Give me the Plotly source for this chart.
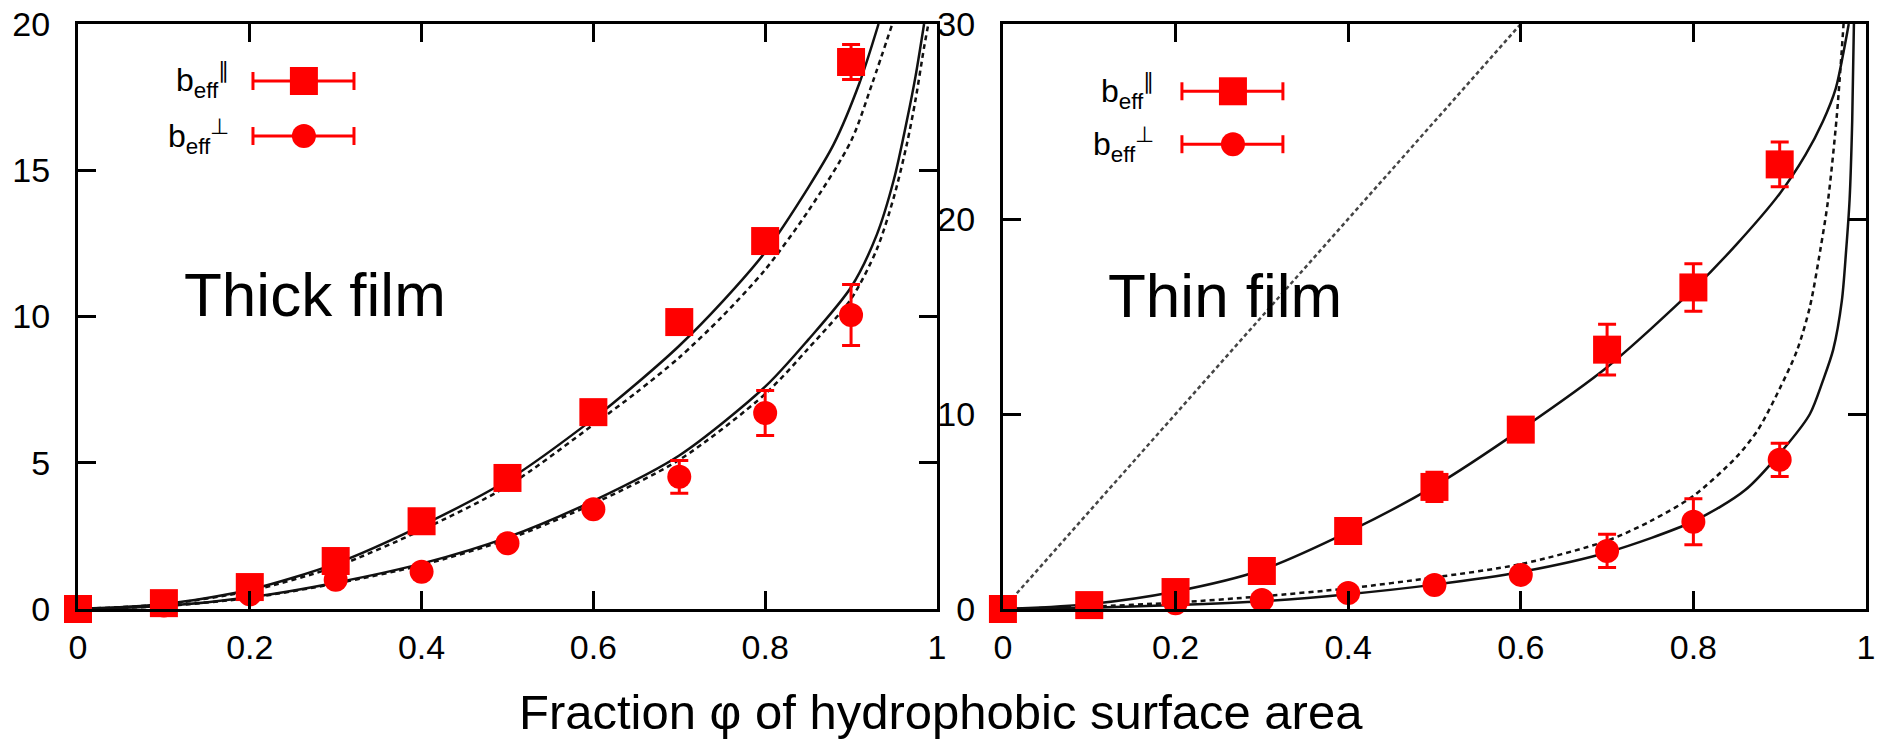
import plotly.graph_objects as go

# ---------------- data ----------------
phi = [0, 0.1, 0.2, 0.3, 0.4, 0.5, 0.6, 0.7, 0.8, 0.9]

# Thick film (left)
thick_par = [0, 0.2, 0.75, 1.64, 3.0, 4.48, 6.73, 9.81, 12.58, 18.7]
thick_par_err = [0, 0, 0, 0, 0, 0, 0, 0, 0, 0.6]
thick_perp = [0, 0.12, 0.5, 1.0, 1.27, 2.25, 3.41, 4.52, 6.7, 10.05]
thick_perp_err = [0, 0, 0, 0, 0.15, 0, 0, 0.56, 0.77, 1.04]

# theory curves, thick film
thick_par_solid_x = [0, 0.1, 0.2, 0.3, 0.4, 0.5, 0.6, 0.65, 0.7, 0.75, 0.8, 0.85, 0.88, 0.91, 0.932]
thick_par_solid_y = [0, 0.17, 0.66, 1.55, 2.85, 4.4, 6.5, 7.7, 9.0, 10.5, 12.2, 14.4, 15.9, 18.0, 20]
thick_par_dash_x = [0, 0.1, 0.2, 0.3, 0.4, 0.5, 0.6, 0.65, 0.7, 0.75, 0.8, 0.85, 0.9, 0.925, 0.948]
thick_par_dash_y = [0, 0.16, 0.62, 1.45, 2.7, 4.2, 6.3, 7.4, 8.6, 10.0, 11.6, 13.6, 16.0, 18.0, 20]
thick_perp_solid_x = [0, 0.1, 0.2, 0.3, 0.4, 0.5, 0.6, 0.7, 0.8, 0.85, 0.9, 0.93, 0.95, 0.965, 0.975, 0.985]
thick_perp_solid_y = [0, 0.1, 0.4, 0.9, 1.55, 2.45, 3.7, 5.25, 7.6, 9.2, 11.0, 12.8, 14.7, 16.7, 18.2, 20.0]
thick_perp_dash_x = [0, 0.1, 0.2, 0.3, 0.4, 0.5, 0.6, 0.7, 0.8, 0.85, 0.9, 0.93, 0.95, 0.965, 0.975, 0.985, 0.99]
thick_perp_dash_y = [0, 0.1, 0.38, 0.87, 1.5, 2.38, 3.6, 5.1, 7.35, 8.9, 10.6, 12.3, 14.1, 15.9, 17.4, 19.2, 20]

# Thin film (right)
thin_par = [0, 0.2, 0.87, 1.95, 4.0, 6.26, 9.2, 13.3, 16.49, 22.8]
thin_par_err = [0, 0, 0, 0, 0, 0.75, 0, 1.3, 1.22, 1.15]
thin_perp = [0, 0.1, 0.3, 0.46, 0.82, 1.23, 1.75, 2.98, 4.47, 7.65]
thin_perp_err = [0, 0, 0, 0, 0, 0, 0, 0.85, 1.18, 0.85]

thin_line_x = [0, 0.6]
thin_line_y = [0, 30]
thin_par_solid_x = [0, 0.1, 0.2, 0.3, 0.4, 0.5, 0.6, 0.7, 0.8, 0.85, 0.9, 0.93, 0.95, 0.965, 0.975, 0.98]
thin_par_solid_y = [0, 0.25, 0.9, 2.0, 3.95, 6.3, 9.2, 12.4, 16.4, 18.7, 21.3, 23.3, 25.0, 26.7, 28.8, 30]
thin_perp_dash_x = [0, 0.1, 0.2, 0.3, 0.4, 0.5, 0.6, 0.7, 0.75, 0.8, 0.85, 0.875, 0.9, 0.92, 0.935, 0.947, 0.956, 0.966, 0.974]
thin_perp_dash_y = [0, 0.12, 0.33, 0.65, 1.06, 1.62, 2.3, 3.5, 4.5, 5.8, 7.8, 9.2, 11.3, 13.25, 15.5, 18.4, 20.95, 25.2, 30]
thin_perp_solid_x = [0, 0.1, 0.2, 0.3, 0.4, 0.5, 0.6, 0.7, 0.8, 0.86, 0.91, 0.935, 0.95, 0.962, 0.972, 0.977, 0.981, 0.984, 0.986]
thin_perp_solid_y = [0, 0.06, 0.2, 0.4, 0.76, 1.25, 1.9, 2.9, 4.5, 6.1, 8.5, 10.0, 11.7, 13.3, 15.8, 18.4, 21.0, 25, 30]

x_ticks = [0, 0.2, 0.4, 0.6, 0.8, 1]
x_ticktext = ["0", "0.2", "0.4", "0.6", "0.8", "1"]
left_yticks = [0, 5, 10, 15, 20]
right_yticks = [0, 10, 20, 30]

# ---------------- figure ----------------
FONT = "Arial, Liberation Sans, sans-serif"
RED = "#ff0000"
fig = go.Figure()

def curve(x, y, xa, ya, dash="solid", color="#111111", width=2.5):
    fig.add_trace(go.Scatter(x=x, y=y, xaxis=xa, yaxis=ya, mode="lines",
                             line=dict(color=color, width=width, dash=dash, shape="spline", smoothing=0.8),
                             showlegend=False, hoverinfo="skip"))

DASH = "5px,4px"
curve(thick_par_dash_x, thick_par_dash_y, "x", "y", DASH)
curve(thick_par_solid_x, thick_par_solid_y, "x", "y")
curve(thick_perp_dash_x, thick_perp_dash_y, "x", "y", DASH)
curve(thick_perp_solid_x, thick_perp_solid_y, "x", "y")

fig.add_trace(go.Scatter(x=thin_line_x, y=thin_line_y, xaxis="x2", yaxis="y2", mode="lines",
                         line=dict(color="#444444", width=2.5, dash="4px,3px"),
                         showlegend=False, hoverinfo="skip"))
curve(thin_par_solid_x, thin_par_solid_y, "x2", "y2")
curve(thin_perp_dash_x, thin_perp_dash_y, "x2", "y2", DASH)
curve(thin_perp_solid_x, thin_perp_solid_y, "x2", "y2")

def pts(y, err, xa, ya, symbol, size):
    fig.add_trace(go.Scatter(x=phi, y=y, xaxis=xa, yaxis=ya, mode="markers",
                             marker=dict(symbol=symbol, size=size, color=RED, line=dict(width=0)),
                             error_y=dict(type="data", array=err, visible=True, color=RED,
                                          thickness=3, width=9),
                             cliponaxis=False, showlegend=False))

pts(thick_perp, thick_perp_err, "x", "y", "circle", 24)
pts(thick_par, thick_par_err, "x", "y", "square", 28)
pts(thin_perp, thin_perp_err, "x2", "y2", "circle", 24)
pts(thin_par, thin_par_err, "x2", "y2", "square", 28)

axis_common = dict(showline=True, linewidth=3, linecolor="black", mirror="ticks",
                   ticks="inside", ticklen=18, tickwidth=3, tickcolor="black",
                   showgrid=False, zeroline=False, automargin=False,
                   tickfont=dict(family=FONT, size=34, color="black"))

fig.update_layout(
    width=1883, height=739,
    margin=dict(l=78, r=17, t=24, b=130, autoexpand=False),
    paper_bgcolor="white", plot_bgcolor="white",
    showlegend=False,
    xaxis=dict(domain=[0, 0.4804], range=[0, 1], tickvals=x_ticks, ticktext=x_ticktext,
               anchor="y", ticklabelstandoff=6, **axis_common),
    yaxis=dict(domain=[0, 1], range=[0, 20], tickvals=left_yticks, anchor="x",
               ticklabelstandoff=18, **axis_common),
    xaxis2=dict(domain=[0.5173, 1], range=[0, 1], tickvals=x_ticks, ticktext=x_ticktext,
                anchor="y2", ticklabelstandoff=6, **axis_common),
    yaxis2=dict(domain=[0, 1], range=[0, 30], tickvals=right_yticks, anchor="x2",
                ticklabelstandoff=18, **axis_common),
)

# ---------------- legends (drawn keys) ----------------
def legend_key(xr, yr, xc, x0, x1, yc, symbol):
    fig.add_shape(type="line", xref=xr, yref=yr, x0=x0, x1=x1, y0=yc, y1=yc,
                  line=dict(color=RED, width=3))
    for xe in (x0, x1):
        fig.add_shape(type="line", xref=xr, yref=yr, xsizemode="pixel", xanchor=xe, x0=0, x1=0,
                      ysizemode="pixel", yanchor=yc, y0=-9, y1=9, line=dict(color=RED, width=3))
    s = 14 if symbol == "square" else 12
    fig.add_shape(type="rect" if symbol == "square" else "circle", xref=xr, yref=yr,
                  xsizemode="pixel", xanchor=xc, x0=-s, x1=s,
                  ysizemode="pixel", yanchor=yc, y0=-s, y1=s,
                  fillcolor=RED, line=dict(width=0))

legend_key("x domain", "y domain", 0.263, 0.2037, 0.3213, 0.9026, "square")
legend_key("x domain", "y domain", 0.263, 0.2037, 0.3213, 0.8085, "circle")
legend_key("x2 domain", "y2 domain", 0.2665, 0.2074, 0.3244, 0.885, "square")
legend_key("x2 domain", "y2 domain", 0.2665, 0.2074, 0.3244, 0.7945, "circle")

lab_par = "b<sub>eff</sub><sup>∥</sup>"
lab_perp = "b<sub>eff</sub><sup>⊥</sup>"
for xr, yr, xx, y1, y2 in [("x domain", "y domain", 0.178, 0.9026, 0.8085),
                           ("x2 domain", "y2 domain", 0.177, 0.885, 0.7945)]:
    for txt, yy in ((lab_par, y1), (lab_perp, y2)):
        fig.add_annotation(text=txt, xref=xr, yref=yr, x=xx, y=yy, xanchor="right", yanchor="middle",
                           showarrow=False, font=dict(family=FONT, size=32, color="black"))

fig.add_annotation(text="Thick film", xref="x domain", yref="y domain", x=0.121, y=0.537,
                   xanchor="left", yanchor="middle", showarrow=False,
                   font=dict(family=FONT, size=62, color="black"))
fig.add_annotation(text="Thin film", xref="x2 domain", yref="y2 domain", x=0.119, y=0.536,
                   xanchor="left", yanchor="middle", showarrow=False,
                   font=dict(family=FONT, size=62, color="black"))

fig.add_annotation(text="Fraction φ of hydrophobic surface area", xref="paper", yref="paper",
                   x=0.4827, y=-0.176, xanchor="center", yanchor="middle", showarrow=False,
                   font=dict(family=FONT, size=49, color="black"))

fig.write_html("out.html", config={"displayModeBar": False},
               post_script="document.body.style.margin='0';document.body.style.overflow='hidden';")
